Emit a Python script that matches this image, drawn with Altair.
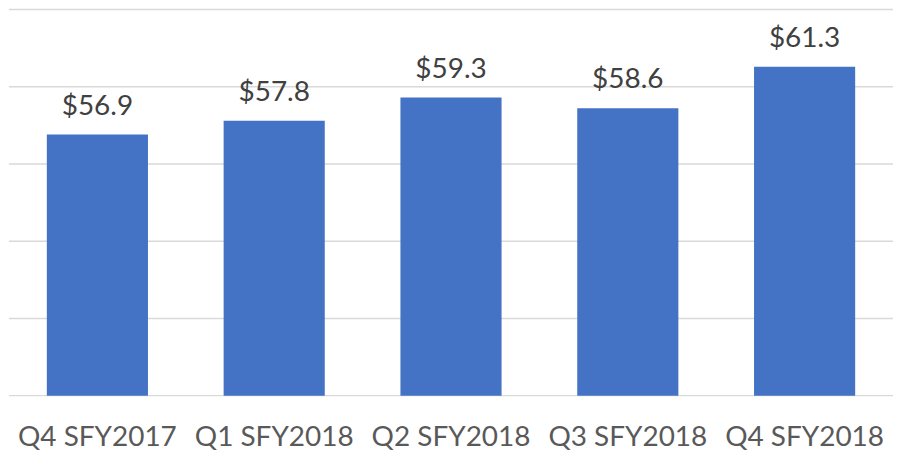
import altair as alt
import pandas as pd

quarters = ["Q4 SFY2017", "Q1 SFY2018", "Q2 SFY2018", "Q3 SFY2018", "Q4 SFY2018"]
values = [56.9, 57.8, 59.3, 58.6, 61.3]
labels = ["$56.9", "$57.8", "$59.3", "$58.6", "$61.3"]
grid_values = [40, 45, 50, 55, 60, 65]

df = pd.DataFrame({"quarter": quarters, "value": values, "label": labels})
grid_df = pd.DataFrame({"g": grid_values})

FONT = "Lato"

yscale = alt.Scale(domain=[40, 65], zero=False, nice=False)

x = alt.X(
    "quarter:N",
    sort=quarters,
    title=None,
    scale=alt.Scale(paddingInner=0.428, paddingOuter=0.214),
    axis=alt.Axis(
        labelAngle=0,
        labelFont=FONT,
        labelFontSize=28,
        labelColor="#595959",
        labelPadding=50,
        labelBaseline="alphabetic",
        ticks=False,
        domain=False,
        grid=False,
    ),
)
y = alt.Y("value:Q", title=None, scale=yscale, axis=None)

grid = alt.Chart(grid_df).mark_rule(color="#d9d9d9", strokeWidth=1.5).encode(
    y=alt.Y("g:Q", scale=yscale, axis=None)
)

base = alt.Chart(df).encode(x=x, y=y)
bars = base.mark_bar(color="#4472C4").encode(y2=alt.datum(40))
text = base.mark_text(
    font=FONT, fontSize=28, color="#404040", baseline="alphabetic", dy=-20
).encode(text="label:N")

chart = (
    alt.layer(grid, bars, text)
    .properties(
        width=886,
        height=387,
        background="white",
        padding={"left": 0, "top": 0, "right": 0, "bottom": 0},
    )
    .configure_view(strokeOpacity=0, strokeWidth=0)
)

chart.save("out.html", embed_options={"renderer": "svg", "actions": False})
